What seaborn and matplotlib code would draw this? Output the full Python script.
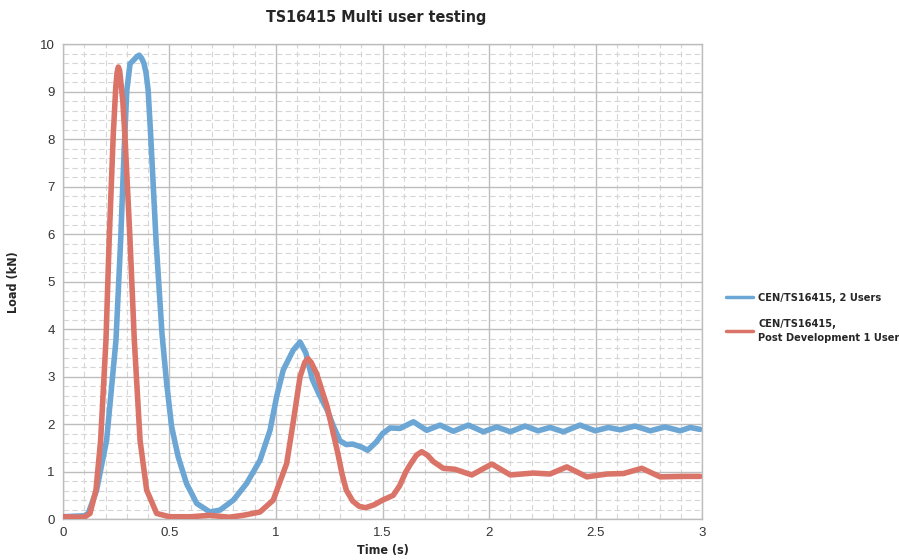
import matplotlib
matplotlib.use("Agg")
import matplotlib.pyplot as plt
import seaborn as sns
import pandas as pd
from matplotlib import font_manager
from matplotlib.ticker import MultipleLocator

# CEN/TS16415, 2 Users
blue_t = [0, 0.1, 0.119, 0.158, 0.205, 0.249, 0.271, 0.28, 0.29, 0.3, 0.315, 0.335,
          0.347, 0.358, 0.37, 0.38, 0.39, 0.4, 0.412, 0.437, 0.465, 0.487, 0.51, 0.541,
          0.58, 0.628, 0.69, 0.737, 0.8, 0.862, 0.925, 0.972, 1.003, 1.034, 1.081,
          1.113, 1.14, 1.17, 1.2, 1.24, 1.27, 1.3, 1.33, 1.36, 1.4, 1.43, 1.47, 1.5,
          1.535, 1.582, 1.645, 1.707, 1.77, 1.832, 1.903, 1.973, 2.036, 2.1, 2.169,
          2.23, 2.286, 2.349, 2.427, 2.498, 2.56, 2.615, 2.685, 2.756, 2.826, 2.897,
          2.944, 2.99]
blue_load = [0.05, 0.07, 0.12, 0.61, 1.66, 3.77, 5.87, 6.93, 8.07, 9.03, 9.59, 9.68,
             9.74, 9.77, 9.7, 9.6, 9.4, 9.03, 8.07, 5.87, 3.9, 2.85, 1.95, 1.31,
             0.75, 0.33, 0.15, 0.19, 0.4, 0.75, 1.24, 1.87, 2.58, 3.14, 3.56,
             3.73, 3.5, 2.95, 2.65, 2.3, 1.95, 1.65, 1.57, 1.58, 1.52, 1.45, 1.62, 1.8,
             1.92, 1.91, 2.05, 1.87, 1.98, 1.85, 1.98, 1.84, 1.94, 1.84, 1.96,
             1.86, 1.93, 1.84, 1.98, 1.86, 1.93, 1.88, 1.96, 1.86, 1.94, 1.86,
             1.93, 1.89]

# CEN/TS16415, Post Development 1 User
red_t = [0, 0.1, 0.127, 0.155, 0.177, 0.202, 0.217, 0.236, 0.248, 0.254, 0.26, 0.266,
         0.272, 0.281, 0.291, 0.315, 0.335, 0.362, 0.393, 0.44, 0.5, 0.6, 0.69, 0.78,
         0.846, 0.925, 0.987, 1.05, 1.08, 1.113, 1.135, 1.15, 1.165, 1.19, 1.24, 1.29,
         1.31, 1.33, 1.36, 1.39, 1.42, 1.46, 1.5, 1.55, 1.58, 1.61, 1.63, 1.66, 1.684,
         1.71, 1.739, 1.785, 1.84, 1.919, 2.013, 2.1, 2.208, 2.286, 2.365, 2.459,
         2.553, 2.631, 2.717, 2.803, 2.912, 2.99]
red_load = [0.05, 0.04, 0.12, 0.61, 1.66, 3.77, 5.87, 8.07, 9.1, 9.4, 9.52, 9.45,
            9.2, 8.8, 8.07, 5.87, 3.77, 1.66, 0.61, 0.12, 0.05, 0.05, 0.08, 0.04,
            0.08, 0.15, 0.4, 1.17, 2.02, 3.0, 3.3, 3.38, 3.3, 3.07, 2.37, 1.39,
            0.95, 0.61, 0.38, 0.27, 0.24, 0.3, 0.4, 0.5, 0.7, 1.0, 1.15, 1.35, 1.42,
            1.35, 1.21, 1.07, 1.05, 0.93, 1.16, 0.93, 0.97, 0.95, 1.1, 0.89,
            0.95, 0.96, 1.07, 0.89, 0.9, 0.9]

labels = ["CEN/TS16415, 2 Users", "CEN/TS16415,\nPost Development 1 User"]
colors = ["#6ba6d4", "#db7468"]

df = pd.concat([
    pd.DataFrame({"Time": blue_t, "Load": blue_load, "Series": labels[0]}),
    pd.DataFrame({"Time": red_t, "Load": red_load, "Series": labels[1]}),
])

# pick a condensed face for the bold texts if one is installed
cond = [f.name for f in font_manager.fontManager.ttflist
        if "condensed" in str(f.stretch).lower() or "Narrow" in f.name or "Condensed" in f.name]
head_family = ["DejaVu Sans"] if "DejaVu Sans" in cond else ["Roboto", "DejaVu Sans"]
head_stretch = "condensed" if cond else "normal"

sns.set_style("white")
plt.rcParams["font.family"] = ["Liberation Sans", "DejaVu Sans"]

fig = plt.figure(figsize=(8.99, 5.6), dpi=100)
ax = fig.add_axes([0.070, 0.073, 0.711, 0.848])

sns.lineplot(data=df, x="Time", y="Load", hue="Series", palette=colors,
             linewidth=4.0, ax=ax, zorder=3, solid_joinstyle="round",
             solid_capstyle="round")

ax.set_xlim(0, 3)
ax.set_ylim(0, 10)
ax.set_xticks([0, 0.5, 1, 1.5, 2, 2.5, 3])
ax.set_xticklabels(["0", "0.5", "1", "1.5", "2", "2.5", "3"])
ax.xaxis.set_minor_locator(MultipleLocator(0.1))
ax.yaxis.set_major_locator(MultipleLocator(1))
ax.yaxis.set_minor_locator(MultipleLocator(0.2))
ax.grid(which="major", color="#bdbdbd", linewidth=1.0, linestyle="-")
ax.grid(which="minor", color="#d6d6d6", linewidth=0.8, linestyle=(0, (5, 3)))
ax.tick_params(which="both", length=0, labelsize=9.5, colors="#333333", pad=6)
for s in ax.spines.values():
    s.set_color("#bdbdbd")
    s.set_linewidth(1.0)

head = dict(family=head_family, fontstretch=head_stretch, fontweight="bold")
ax.set_xlabel("Time (s)", fontsize=9, labelpad=3, **head)
ax.set_ylabel("Load (kN)", fontsize=9, labelpad=14, **head)
fig.suptitle("TS16415 Multi user testing", x=0.418, y=0.982, fontsize=11.5, **head)

leg = ax.legend(loc="upper left", bbox_to_anchor=(0.797, 0.495),
                bbox_transform=fig.transFigure, frameon=False,
                prop=font_manager.FontProperties(family=head_family, stretch=head_stretch,
                                                 weight="bold", size=7.9),
                handlelength=2.4, labelspacing=1.5, handletextpad=0.5)
for line in leg.get_lines():
    line.set_linewidth(2.5)
for t in leg.get_texts():
    t.set_linespacing(1.45)

fig.savefig("out.png", dpi=100)
